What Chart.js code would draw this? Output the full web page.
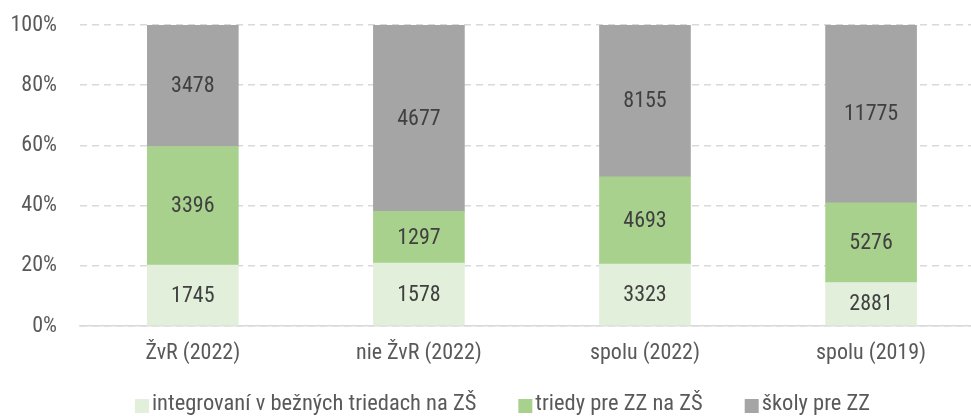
<!DOCTYPE html>
<html>
<head>
<meta charset="utf-8">
<script src="https://cdn.jsdelivr.net/npm/chart.js@4.4.0/dist/chart.umd.min.js"></script>
<style>
  html, body { margin: 0; padding: 0; background: #fff; }
  #wrap { width: 971px; height: 416px; position: relative; }
</style>
</head>
<body>
<div id="wrap"><canvas id="chart"></canvas></div>
<script>
// Categories and raw counts per group
const categories = ['ŽvR (2022)', 'nie ŽvR (2022)', 'spolu (2022)', 'spolu (2019)'];
const seriesNames = ['integrovaní v bežných triedach na ZŠ', 'triedy pre ZZ na ZŠ', 'školy pre ZZ'];
const integrated = [1745, 1578, 3323, 2881];
const classes = [3396, 1297, 4693, 5276];
const schools = [3478, 4677, 8155, 11775];
const yTicks = [0, 20, 40, 60, 80, 100];

const colors = ['#e2efda', '#a9d18e', '#a5a5a5'];
const FONT = '"Roboto Condensed", "Liberation Sans", sans-serif';

// Share of each count in its category total (100% stacked)
const totals = categories.map((_, i) => integrated[i] + classes[i] + schools[i]);
function toShare(arr) {
  return arr.map((v, i) => ({ x: i, y: v / totals[i] * 100, raw: v }));
}

// Draw the count in the middle of each segment
const valueLabels = {
  id: 'valueLabels',
  afterDatasetsDraw(chart) {
    const ctx = chart.ctx;
    ctx.save();
    ctx.font = '22px ' + FONT;
    ctx.fillStyle = '#404040';
    ctx.textAlign = 'center';
    ctx.textBaseline = 'middle';
    chart.data.datasets.forEach((ds, di) => {
      chart.getDatasetMeta(di).data.forEach((bar, i) => {
        const mid = (bar.y + bar.base) / 2;
        ctx.fillText(String(ds.data[i].raw), bar.x, mid + 1);
      });
    });
    ctx.restore();
  }
};

// Legend drawn by hand to get tight box/text spacing
const bottomLegend = {
  id: 'bottomLegend',
  afterDraw(chart) {
    const ctx = chart.ctx;
    ctx.save();
    ctx.font = '22.5px ' + FONT;
    ctx.textBaseline = 'middle';
    const box = 14, gap = 3, spacing = 42;
    const widths = chart.data.datasets.map(ds => ctx.measureText(ds.label).width);
    const total = widths.reduce((a, w) => a + box + gap + w, 0) + spacing * (widths.length - 1);
    let x = chart.width / 2 + 17 - total / 2;
    const y = 404;
    chart.data.datasets.forEach((ds, i) => {
      ctx.fillStyle = ds.backgroundColor;
      ctx.fillRect(x, y - 5, box, box);
      ctx.fillStyle = '#595959';
      ctx.fillText(ds.label, x + box + gap, y);
      x += box + gap + widths[i] + spacing;
    });
    ctx.restore();
  }
};

function init() {
  const ctx = document.getElementById('chart').getContext('2d');
  const seriesData = [integrated, classes, schools];

  new Chart(ctx, {
    type: 'bar',
    data: {
      datasets: seriesNames.map((name, k) => ({
        label: name,
        data: toShare(seriesData[k]),
        backgroundColor: colors[k],
        borderWidth: 0,
        barThickness: 91,
      }))
    },
    options: {
      responsive: true,
      maintainAspectRatio: false,
      animation: false,
      layout: { padding: { left: 10, right: 0, top: 25, bottom: 50 } },
      plugins: {
        legend: { display: false },
        tooltip: { enabled: false }
      },
      scales: {
        x: {
          type: 'linear',
          stacked: true,
          offset: false,
          min: -0.499,
          max: 3.442,
          afterBuildTicks: scale => { scale.ticks = categories.map((_, i) => ({ value: i })); },
          afterFit: scale => { scale.height = 40; },
          grid: { display: false, drawTicks: false },
          border: { display: true, color: '#d9d9d9', width: 1.5 },
          ticks: {
            padding: 14,
            autoSkip: false,
            maxRotation: 0,
            color: '#595959',
            font: { family: FONT, size: 22 },
            callback: v => categories[v]
          }
        },
        y: {
          stacked: true,
          min: 0,
          max: 100,
          afterBuildTicks: scale => { scale.ticks = yTicks.map(v => ({ value: v })); },
          afterFit: scale => {
            scale.width = 70;
            // tick padding would otherwise push the plot top down
            scale.paddingTop = 0;
            scale.paddingBottom = 0;
          },
          grid: { color: '#d9d9d9', lineWidth: 1.5, drawTicks: false },
          border: { display: false, dash: [7, 5] },
          ticks: {
            padding: 23,
            color: '#595959',
            font: { family: FONT, size: 22 },
            callback: v => v + '%'
          }
        }
      }
    },
    plugins: [valueLabels, bottomLegend]
  });
}

document.addEventListener('DOMContentLoaded', init);
</script>
</body>
</html>
